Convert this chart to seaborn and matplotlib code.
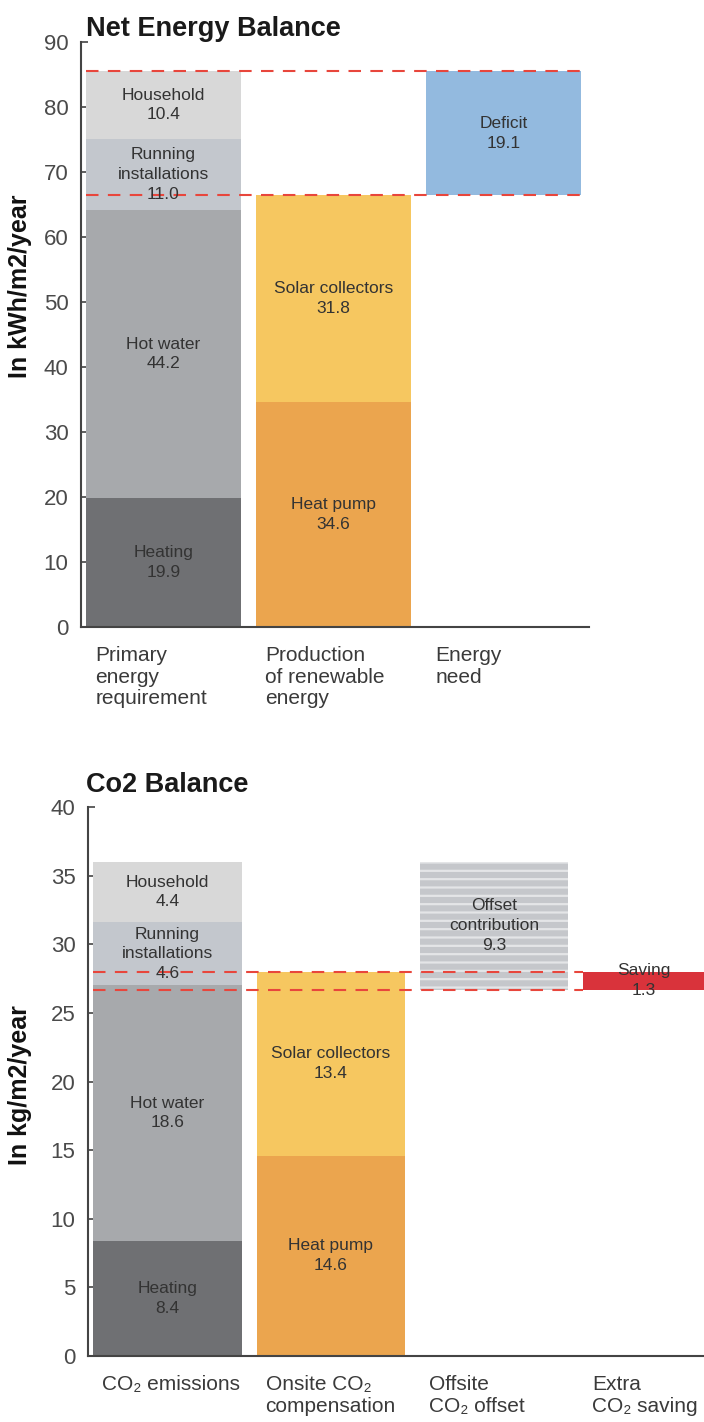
import matplotlib
matplotlib.use("Agg")
import matplotlib.pyplot as plt
import seaborn as sns

sns.set_theme(style="white")
FONT = ["Liberation Sans", "DejaVu Sans"]
plt.rcParams["font.family"] = FONT
plt.rcParams["hatch.linewidth"] = 1.6

# ---- Net energy balance (kWh/m2/year) ----
energy_categories = ["Primary\nenergy\nrequirement", "Production\nof renewable\nenergy", "Energy\nneed"]
demand_labels = ["Heating", "Hot water", "Running\ninstallations", "Household"]
demand_values = [19.9, 44.2, 11.0, 10.4]
renewable_labels = ["Heat pump", "Solar collectors"]
renewable_values = [34.6, 31.8]
deficit_label = "Deficit"
deficit_value = 19.1
energy_ticks = [0, 10, 20, 30, 40, 50, 60, 70, 80, 90]

# ---- CO2 balance (kg/m2/year) ----
co2_categories = ["CO\u2082 emissions", "Onsite CO\u2082\ncompensation", "Offsite\nCO\u2082 offset", "Extra\nCO\u2082 saving"]
emission_labels = ["Heating", "Hot water", "Running\ninstallations", "Household"]
emission_values = [8.4, 18.6, 4.6, 4.4]
onsite_labels = ["Heat pump", "Solar collectors"]
onsite_values = [14.6, 13.4]
offset_label = "Offset\ncontribution"
offset_value = 9.3
saving_label = "Saving"
saving_value = 1.3
co2_ticks = [0, 5, 10, 15, 20, 25, 30, 35, 40]

# Palette
demand_colors = ["#6f7073", "#a7a9ac", "#c3c7cd", "#d8d8d8"]
renewable_colors = ["#eba54e", "#f6c760"]
deficit_color = "#93badf"
saving_color = "#d9333b"
offset_color = "#c5c7cb"
stripe_color = "#e4e5e7"
dash_color = "#e8463c"
text_color = "#333333"
axis_color = "#444444"

BAR_W = 0.91
DASH = (0, (6, 4.5))


def add_segment(ax, order, cat, value, base, label, color, text_x=None, **kw):
    sns.barplot(x=[cat], y=[value], order=order, bottom=base, color=color,
                saturation=1, width=BAR_W, errorbar=None, linewidth=0, ax=ax, **kw)
    pos = order.index(cat) if text_x is None else text_x
    ax.text(pos, base + value / 2, f"{label}\n{value:.1f}", ha="center", va="center",
            fontsize=12.5, color=text_color, linespacing=1.4, zorder=6)


def stack(ax, order, cat, labels, values, colors, start=0.0):
    base = start
    for lab, val, col in zip(labels, values, colors):
        add_segment(ax, order, cat, val, base, lab, col)
        base += val
    return base


def style_axis(ax, ticks, ylabel, label_xy, xlim, ylabel_size):
    ax.set_ylim(ticks[0], ticks[-1])
    ax.set_xlim(*xlim)
    ax.set_yticks(ticks)
    ax.set_yticklabels([str(t) for t in ticks])
    for side in ("top", "right"):
        ax.spines[side].set_visible(False)
    for side in ("left", "bottom"):
        ax.spines[side].set_color(axis_color)
        ax.spines[side].set_linewidth(1.5)
    ax.tick_params(axis="y", left=True, direction="in", length=5, width=1.2,
                   color=axis_color, labelsize=16, labelcolor="#4a4a4a", pad=9)
    ax.set_ylabel(ylabel, fontsize=ylabel_size, fontweight="bold",
                  color="#111111", va="center")
    ax.yaxis.set_label_coords(*label_xy)
    ax.set_xlabel("")
    ax.grid(False)


def category_labels(ax, order):
    positions = [i - BAR_W / 2 + 0.055 for i in range(len(order))]
    ax.set_xticks(positions)
    ax.set_xticklabels(order, ha="left", va="top", fontsize=15, color="#3a3a3a",
                       linespacing=1.15)
    ax.tick_params(axis="x", bottom=False, length=0, pad=14)


fig = plt.figure(figsize=(7.04, 14.22), dpi=100)
fig.patch.set_facecolor("white")

# ---------------- Net energy balance ----------------
ax1 = fig.add_axes([0.1151, 0.5591, 0.7216, 0.4114])
demand_total = stack(ax1, energy_categories, energy_categories[0],
                     demand_labels, demand_values, demand_colors)
renewable_total = stack(ax1, energy_categories, energy_categories[1],
                        renewable_labels, renewable_values, renewable_colors)
add_segment(ax1, energy_categories, energy_categories[2], deficit_value,
            demand_total - deficit_value, deficit_label, deficit_color)
ax1.hlines([demand_total, renewable_total], -BAR_W / 2, 2 + BAR_W / 2,
           colors=dash_color, linestyles=[DASH], linewidth=1.5, zorder=5)
style_axis(ax1, energy_ticks, "In kWh/m2/year", (-0.12, 0.583), (-0.485, 2.503), 18)
category_labels(ax1, energy_categories)
fig.text(86 / 704, 1 - 36 / 1422, "Net Energy Balance", fontsize=19.5,
         fontweight="bold", color="#1a1a1a", va="baseline", ha="left")

# ---------------- CO2 balance ----------------
ax2 = fig.add_axes([0.125, 0.0464, 0.875, 0.3861])
co2_xlim = (-0.487, 3.285)
emission_total = stack(ax2, co2_categories, co2_categories[0],
                       emission_labels, emission_values, demand_colors)
onsite_total = stack(ax2, co2_categories, co2_categories[1],
                     onsite_labels, onsite_values, renewable_colors)
offset_base = emission_total - offset_value
add_segment(ax2, co2_categories, co2_categories[2], offset_value, offset_base,
            offset_label, offset_color, hatch="--", edgecolor=stripe_color)
add_segment(ax2, co2_categories, co2_categories[3], saving_value,
            onsite_total - saving_value, saving_label, saving_color,
            text_x=(3 - BAR_W / 2 + co2_xlim[1]) / 2)
ax2.hlines([onsite_total, offset_base], -BAR_W / 2, 3 - BAR_W / 2,
           colors=dash_color, linestyles=[DASH], linewidth=1.5, zorder=5)
style_axis(ax2, co2_ticks, "In kg/m2/year", (-0.11, 0.494), co2_xlim, 18)
category_labels(ax2, co2_categories)
fig.text(86 / 704, 1 - 792 / 1422, "Co2 Balance", fontsize=19.5,
         fontweight="bold", color="#1a1a1a", va="baseline", ha="left")

fig.savefig("out.png", dpi=100, facecolor="white")
